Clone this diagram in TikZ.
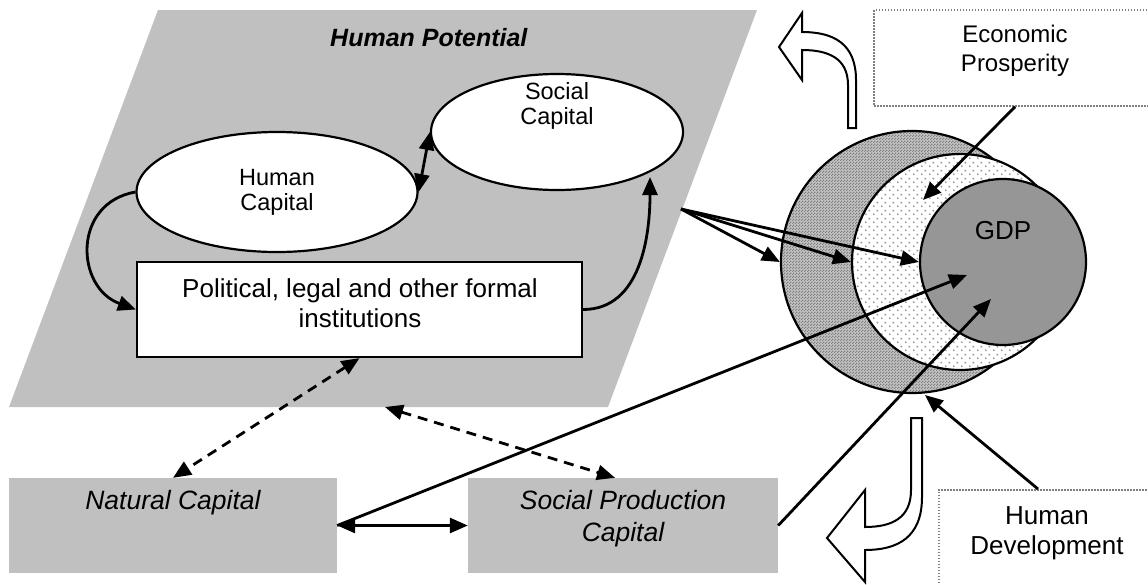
\documentclass[tikz,border=0pt]{standalone}
\usepackage{fontspec}
\setmainfont{Liberation Sans}
\usetikzlibrary{arrows.meta,shapes.geometric,patterns}
\definecolor{panel}{RGB}{192,192,192}
\definecolor{gdpgray}{RGB}{150,150,150}
\definecolor{checklight}{RGB}{196,196,196}
\definecolor{checkdark}{RGB}{128,128,128}
\definecolor{dotgray}{RGB}{160,160,160}
\pgfdeclarepatternformonly{sparsedots}{\pgfpoint{0pt}{0pt}}{\pgfpoint{8pt}{8pt}}{\pgfpoint{8pt}{8pt}}{\pgfpathcircle{\pgfpoint{2pt}{2pt}}{1.2pt}\pgfpathcircle{\pgfpoint{6pt}{6pt}}{1.2pt}\pgfusepath{fill}}
\pgfdeclarepatternformonly{finecheck}{\pgfpoint{0pt}{0pt}}{\pgfpoint{3pt}{3pt}}{\pgfpoint{3pt}{3pt}}{\pgfpathrectangle{\pgfpoint{0pt}{0pt}}{\pgfpoint{1.5pt}{1.5pt}}\pgfpathrectangle{\pgfpoint{1.5pt}{1.5pt}}{\pgfpoint{1.5pt}{1.5pt}}\pgfusepath{fill}}
\begin{document}
\begin{tikzpicture}[x=1pt,y=-1pt,
  lbl/.style={inner sep=0pt, align=center},
  arr/.style={line width=2.8pt, -{Triangle[length=18pt,width=15pt]}},
  darr/.style={line width=2.8pt, {Triangle[length=18pt,width=15pt]}-{Triangle[length=18pt,width=15pt]}},
  dasharr/.style={darr, dash pattern=on 10pt off 7pt},
  graybox/.style={rectangle, fill=panel, inner sep=0pt},
  dotbox/.style={rectangle, draw=gray, dash pattern=on 1.5pt off 1.5pt, line width=1.5pt, inner sep=0pt, fill=white},
  oval/.style={ellipse, draw, line width=2.2pt, fill=white, inner sep=0pt},
  ring/.style={circle, draw, line width=2.2pt, inner sep=0pt},
  blockarrow/.style={draw, fill=white, line width=2pt, line join=miter}
]
\useasboundingbox (0,0) rectangle (1148,584);

% Human Potential panel
\fill[panel] (158,10) -- (757,10) -- (608,407) -- (9,407) -- cycle;
\coordinate (fan) at (681,209);
\coordinate (hpbot) at (385,407);
\node[lbl, anchor=west, font=\fontsize{25}{30}\selectfont\bfseries\itshape] (hptitle) at (330,38) {Human Potential};

\node[oval, minimum width=281pt, minimum height=120pt, font=\fontsize{23.5}{25}\selectfont, align=center] (hc) at (277,192) {Human\\Capital};
\node[oval, minimum width=252pt, minimum height=116pt] (sc) at (557,132) {};
\node[lbl, font=\fontsize{23.5}{25}\selectfont] (sctext) at (557,106) {Social\\Capital};

\node[rectangle, draw, line width=2.2pt, fill=white, minimum width=445pt, minimum height=95pt] (pi) at (359.5,309.5) {};
\node[lbl, font=\fontsize{26}{30}\selectfont] (pitext) at (360,303) {Political, legal and other formal\\institutions};

% lower boxes
\node[graybox, minimum width=328pt, minimum height=95pt] (nc) at (173,525.5) {};
\node[lbl, font=\fontsize{26.5}{32}\selectfont\itshape] (nctext) at (173,503) {Natural Capital};
\node[graybox, minimum width=310pt, minimum height=95pt] (spc) at (623,525.5) {};
\node[lbl, font=\fontsize{26.5}{32}\selectfont\itshape] (spctext) at (623,519) {Social Production\\Capital};

% circles
\node[ring, minimum size=262pt, preaction={fill=checklight}, pattern=finecheck, pattern color=checkdark] (hdc) at (912,262) {};
\node[ring, minimum size=216pt, preaction={fill=white}, pattern=sparsedots, pattern color=dotgray] (epc) at (960,262) {};
\node[ring, minimum size=166pt, fill=gdpgray] (gdp) at (1003,262) {};
\node[lbl, font=\fontsize{26}{30}\selectfont] (gdptext) at (1003,231) {GDP};

% dotted label boxes
\node[dotbox, minimum width=282pt, minimum height=96pt] (ep) at (1015,58) {};
\node[lbl, font=\fontsize{24}{29}\selectfont] (eptext) at (1015,51) {Economic\\Prosperity};
\node[dotbox, minimum width=218pt, minimum height=120pt, anchor=north west] (hd) at (938,489) {};
\node[lbl, font=\fontsize{26}{30}\selectfont] (hdtext) at (1047,533) {Human\\Development};

% block arrows
\draw[blockarrow] (848,128) -- (856,128) -- (856,80) .. controls (856,44) and (834,32) .. (802,32) -- (802,13) -- (779,47) -- (802,80) -- (802,50) .. controls (828,50) and (848,58) .. (848,85) -- cycle;
\draw[blockarrow] (911,418) -- (922,418) -- (922,497) .. controls (922,538) and (897,550) .. (865,550) -- (865,582) -- (827,538) -- (865,490) -- (865,527) .. controls (892,527) and (911,518) .. (911,490) -- cycle;

% coordinates for arrow ends inside the circles
\coordinate (epend) at (923,200);
\coordinate (hdend) at (925,395);
\coordinate (gdpA) at (967,275);
\coordinate (gdpB) at (991,299);
\coordinate (scin) at (650,177);

% connectors
\draw[arr] (ep.south) -- (epend);
\draw[arr] ([xshift=100pt]hd.north west) -- (hdend);
\draw[arr] (fan) -- (hdc.west);
\draw[arr] (fan) -- (epc.west);
\draw[arr] (fan) -- (gdp.west);
\draw[darr] (nc.east) -- (spc.west);
\draw[arr] (nc.east) -- (gdpA);
\draw[arr] (spc.east) -- (gdpB);
\draw[dasharr] (pi.south) -- (nc.north);
\draw[dasharr] (hpbot) -- ([xshift=-8pt]spc.north);
\draw[arr] (hc.west) to[out=190, in=160, looseness=1.4] (pi.west);
\draw[arr] (pi.east) to[out=0, in=-90, looseness=1] (scin);
\draw[darr] (hc.east) -- (sc.west);
\end{tikzpicture}
\end{document}
